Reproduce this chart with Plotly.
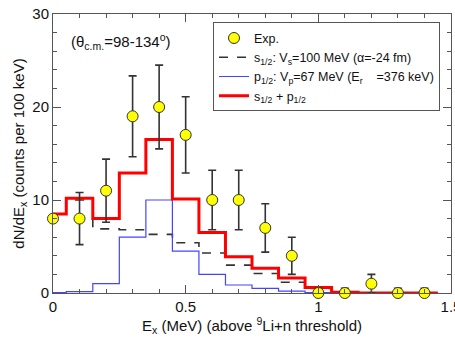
import plotly.graph_objects as go

# Measured spectrum (counts per 100 keV) with statistical errors
ex_points = [0.0, 0.1, 0.2, 0.3, 0.4, 0.5, 0.6, 0.7, 0.8, 0.9, 1.0, 1.1, 1.2, 1.3, 1.4]
counts = [8, 8, 11, 19, 20, 17, 10, 10, 7, 4, 0, 0, 1, 0, 0]
count_err = [0, 2.8, 3.4, 4.35, 4.5, 4.1, 3.2, 3.2, 2.6, 2.0, 0.5, 0.5, 1.0, 0.5, 0.5]

# Histogram bin edges for the calculated spectra
bin_edges = [0.0, 0.05, 0.15, 0.25, 0.35, 0.45, 0.55, 0.65, 0.75, 0.85, 0.95, 1.05, 1.15, 1.25, 1.35, 1.45]
s_wave = [8.5, 10.0, 6.9, 6.8, 6.3, 5.4, 4.3, 3.0, 2.1, 1.15, 0.5, 0.0, 0.0, 0.0, 0.0]
p_wave = [0.05, 0.15, 1.0, 6.0, 10.0, 4.5, 2.0, 0.86, 0.5, 0.2, 0.05, 0.0, 0.0, 0.0, 0.0]
s_plus_p = [8.5, 10.2, 8.0, 12.9, 16.5, 10.1, 6.5, 3.9, 2.65, 1.6, 0.6, 0.07, 0.0, 0.0, 0.0]

x_ticks = [0, 0.5, 1, 1.5]
x_tick_text = ["0", "0.5", "1", "1.5"]
y_ticks = [0, 10, 20, 30]

FONT = "Liberation Sans, Arial, Helvetica, sans-serif"
FRAME = "#555555"


def steps(values):
    # repeat the last bin value so the final step reaches the last edge
    return list(values) + [values[-1]]


fig = go.Figure()

fig.add_trace(go.Scatter(
    x=bin_edges, y=steps(s_wave), mode="lines", line_shape="hv", legendrank=2,
    name="s<sub>1/2</sub>: V<sub>s</sub>=100 MeV (\u03b1=-24 fm)",
    line=dict(color="#333333", width=1.6, dash="dash"),
))

fig.add_trace(go.Scatter(
    x=bin_edges, y=steps(p_wave), mode="lines", line_shape="hv", legendrank=3,
    name="p<sub>1/2</sub>: V<sub>p</sub>=67 MeV (E<sub>r</sub>\u00a0\u00a0\u00a0\u00a0=376 keV)",
    line=dict(color="#4444ff", width=1.2),
))

fig.add_trace(go.Scatter(
    x=bin_edges, y=steps(s_plus_p), mode="lines", line_shape="hv", legendrank=4,
    name="s<sub>1/2</sub> + p<sub>1/2</sub>",
    line=dict(color="#ff0000", width=3),
))

# experimental points drawn last so they sit on top of the curves
fig.add_trace(go.Scatter(
    x=ex_points, y=counts, mode="markers", name="Exp.", legendrank=1,
    marker=dict(size=11, color="#ffff00", line=dict(color="#333333", width=1)),
    error_y=dict(type="data", array=count_err, color="#333333", thickness=1.6, width=4),
    cliponaxis=False,
))

fig.add_annotation(
    x=0.06, y=27, xref="x", yref="y", xanchor="left", yanchor="middle",
    text="(\u03b8<sub>c.m.</sub>=98-134<sup>o</sup>)", showarrow=False,
    font=dict(family=FONT, size=15, color="#111111"),
)

axis_common = dict(
    showline=True, linecolor=FRAME, linewidth=1, mirror="allticks",
    ticks="inside", ticklen=8, tickcolor=FRAME, showgrid=False, zeroline=False,
    tickfont=dict(family=FONT, size=15, color="#111111"),
    ticklabeloverflow="allow", automargin=False,
)

fig.update_xaxes(
    range=[0, 1.5], tickvals=x_ticks, ticktext=x_tick_text,
    minor=dict(dtick=0.1, ticklen=4, ticks="inside", tickcolor=FRAME),
    title=dict(text="E<sub>x</sub> (MeV) (above <sup>9</sup>Li+n threshold)",
               font=dict(family=FONT, size=15, color="#111111"), standoff=6),
    **axis_common,
)
fig.update_yaxes(
    range=[0, 30], tickvals=y_ticks,
    minor=dict(dtick=2, ticklen=4, ticks="inside", tickcolor=FRAME),
    title=dict(text="dN/dE<sub>x</sub> (counts per 100 keV)",
               font=dict(family=FONT, size=15, color="#111111"), standoff=4),
    **axis_common,
)

fig.update_layout(
    width=455, height=339,
    margin=dict(l=53, r=4, t=14, b=46),
    paper_bgcolor="white", plot_bgcolor="white",
    showlegend=True,
    legend=dict(
        x=0.402, y=0.97, xanchor="left", yanchor="top",
        bgcolor="white", bordercolor=FRAME, borderwidth=1,
        font=dict(family=FONT, size=12.5, color="#111111"),
        traceorder="normal", tracegroupgap=0, itemwidth=30,
    ),
)

fig.write_html("out.html")
